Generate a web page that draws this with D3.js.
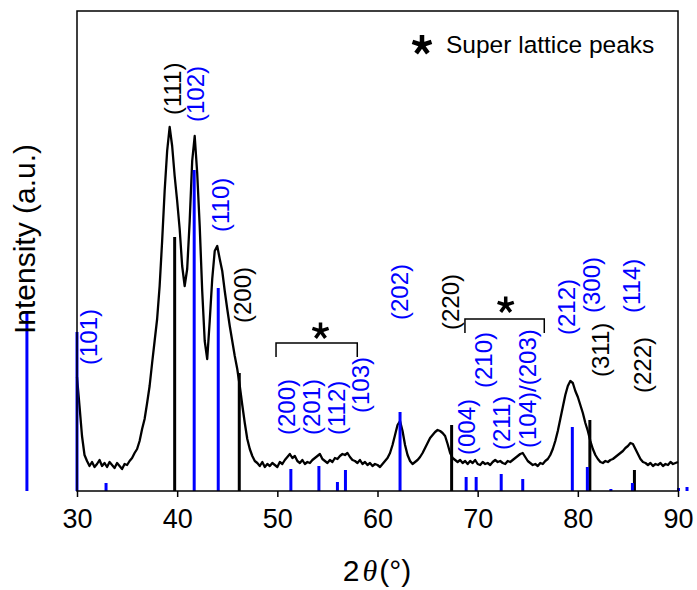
<!DOCTYPE html>
<html>
<head>
<meta charset="utf-8">
<script src="https://cdn.jsdelivr.net/npm/d3@7"></script>
<style>
  body { margin: 0; background: #fff; }
  text { font-family: "Liberation Sans", Arial, sans-serif; }
</style>
</head>
<body>
<svg width="697" height="590"></svg>
<script>
// measured pattern, [2theta, intensity (a.u.)]
const pattern = [
  [30,114],[30.25,85],[30.5,55],[30.75,36],[31,30],[31.25,25],[31.5,29],[31.75,24],
  [32,27],[32.25,31],[32.5,25],[32.75,28],[33,24],[33.25,29],[33.5,26],[33.75,23],
  [34,28],[34.25,25],[34.5,22],[34.75,27],[35,26],[35.25,30],[35.5,33],[35.75,38],
  [36,42],[36.25,50],[36.5,62],[36.75,72],[37,88],[37.25,105],[37.5,128],[37.75,150],
  [38,172],[38.25,205],[38.5,250],[38.75,300],[39,340],[39.25,364],[39.5,345],[39.75,315],
  [40,290],[40.25,262],[40.5,225],[40.75,205],[41,222],[41.25,270],[41.5,330],[41.75,355],
  [42,318],[42.25,265],[42.5,200],[42.75,150],[43,132],[43.25,170],[43.5,212],[43.75,240],
  [44,245],[44.25,232],[44.5,220],[44.75,200],[45,182],[45.25,165],[45.5,150],[45.75,135],
  [46,122],[46.25,105],[46.5,86],[46.75,68],[47,52],[47.25,42],[47.5,35],[47.75,30],
  [48,28],[48.25,25],[48.5,29],[48.75,24],[49,27],[49.25,25],[49.5,28],[49.75,26],
  [50,24],[50.25,29],[50.5,27],[50.75,31],[51,34],[51.25,37],[51.5,33],[51.75,35],
  [52,30],[52.25,28],[52.5,31],[52.75,27],[53,29],[53.25,28],[53.5,31],[53.75,33],
  [54,35],[54.25,37],[54.5,32],[54.75,30],[55,28],[55.25,31],[55.5,29],[55.75,33],
  [56,32],[56.25,35],[56.5,37],[56.75,36],[57,38],[57.25,34],[57.5,31],[57.75,30],
  [58,28],[58.25,31],[58.5,27],[58.75,29],[59,26],[59.25,28],[59.5,25],[59.75,27],
  [60,26],[60.25,24],[60.5,27],[60.75,30],[61,33],[61.25,38],[61.5,46],[61.75,56],
  [62,66],[62.25,70],[62.5,60],[62.75,46],[63,36],[63.25,30],[63.5,27],[63.75,29],
  [64,31],[64.25,34],[64.5,38],[64.75,43],[65,48],[65.25,53],[65.5,56],[65.75,59],
  [66,61],[66.25,60],[66.5,58],[66.75,55],[67,47],[67.25,38],[67.5,33],[67.75,31],
  [68,29],[68.25,31],[68.5,28],[68.75,30],[69,27],[69.25,30],[69.5,28],[69.75,31],
  [70,27],[70.25,26],[70.5,29],[70.75,27],[71,28],[71.25,26],[71.5,29],[71.75,31],
  [72,29],[72.25,30],[72.5,28],[72.75,27],[73,30],[73.25,29],[73.5,31],[73.75,33],
  [74,35],[74.25,37],[74.5,38],[74.75,34],[75,30],[75.25,28],[75.5,26],[75.75,27],
  [76,25],[76.25,28],[76.5,27],[76.75,30],[77,32],[77.25,36],[77.5,42],[77.75,50],
  [78,60],[78.25,72],[78.5,84],[78.75,96],[79,105],[79.25,110],[79.5,108],[79.75,100],
  [80,94],[80.25,86],[80.5,78],[80.75,68],[81,60],[81.25,50],[81.5,42],[81.75,36],
  [82,32],[82.25,29],[82.5,28],[82.75,30],[83,29],[83.25,31],[83.5,32],[83.75,34],
  [84,36],[84.25,38],[84.5,40],[84.75,43],[85,45],[85.25,48],[85.5,47],[85.75,42],
  [86,37],[86.25,32],[86.5,29],[86.75,28],[87,26],[87.25,28],[87.5,25],[87.75,27],
  [88,26],[88.25,28],[88.5,25],[88.75,27],[89,26],[89.25,29],[89.5,27],[89.75,28],
  [90,29]
]

// reference lines, hexagonal phase (blue)
const hexAngles = [25.0, 30.0, 32.9, 41.7, 44.1, 51.35, 54.15, 56.0, 56.8, 62.25,
  68.85, 69.85, 72.35, 74.5, 79.45, 80.95, 83.3, 85.45, 90.05, 90.9]
const hexHeights = [180, 159, 8, 321, 203, 22, 25, 9, 21, 79,
  14, 14, 17, 12, 64, 24, 2, 8, 3, 4]

// reference lines, cubic phase (black)
const cubAngles = [39.75, 46.2, 67.4, 81.2, 85.65]
const cubHeights = [254, 118, 66, 71, 21]

// peak labels: text, 2theta, intensity at the start of the text, phase
const labelText = ['(101)', '(111)', '(102)', '(110)', '(200)', '(200)', '(201)', '(112)', '(103)',
  '(202)', '(220)', '(004)', '(210)', '(211)', '(104)/(203)', '(212)', '(300)', '(311)', '(114)', '(222)']
const labelAngle = [31.1, 39.53, 41.88, 44.28, 46.57, 50.96, 53.46, 55.86, 58.35,
  62.24, 67.24, 68.84, 70.63, 72.33, 75.02, 78.82, 81.41, 82.31, 85.31, 86.5]
const labelLevel = [126, 376, 369, 259, 168, 56, 56, 56, 78,
  171, 161, 36, 103, 41, 43, 156, 178, 114, 178, 98]
const labelPhase = ['hex', 'cub', 'hex', 'hex', 'cub', 'hex', 'hex', 'hex', 'hex',
  'hex', 'cub', 'hex', 'hex', 'hex', 'hex', 'hex', 'hex', 'cub', 'hex', 'cub']

// super lattice brackets: from, to, bar level, end level, star angle, star level
const brackets = [[49.87, 57.98, 148, 134, 54.31, 160], [68.73, 76.65, 172, 158, 72.8, 186]]

const xTicks = [30, 40, 50, 60, 70, 80, 90]

const svg = d3.select('svg')
const m = {left: 77, right: 678, top: 11, bottom: 491}
const blue = '#0000ff'

const x = d3.scaleLinear().domain([30, 90]).range([m.left, m.right])
const y = d3.scaleLinear().domain([0, 480]).range([m.bottom, m.top])

// curve
svg.append('path')
  .datum(pattern)
  .attr('fill', 'none')
  .attr('stroke', '#000')
  .attr('stroke-width', 2.3)
  .attr('stroke-linejoin', 'round')
  .attr('d', d3.line().x(d => x(d[0])).y(d => y(d[1])))

// reference sticks
const sticks = (angles, heights, color) => {
  svg.append('g').selectAll('line')
    .data(angles)
    .join('line')
    .attr('x1', d => x(d)).attr('x2', d => x(d))
    .attr('y1', y(0)).attr('y2', (d, i) => y(heights[i]))
    .attr('stroke', color)
    .attr('stroke-width', 3)
}
sticks(cubAngles, cubHeights, '#000')
sticks(hexAngles, hexHeights, blue)

// frame
svg.append('rect')
  .attr('x', m.left).attr('y', m.top)
  .attr('width', m.right - m.left).attr('height', m.bottom - m.top)
  .attr('fill', 'none').attr('stroke', '#000').attr('stroke-width', 1.5)

const xAxis = svg.append('g')
  .attr('transform', `translate(0,${m.bottom})`)
  .call(d3.axisBottom(x).tickValues(xTicks).tickFormat(d3.format('d')).tickSize(6).tickPadding(12))
xAxis.select('.domain').remove()
xAxis.selectAll('line').attr('stroke-width', 1.5)
xAxis.selectAll('text')
  .style('font-family', '"Liberation Sans", Arial, sans-serif')
  .attr('font-size', 27).attr('fill', '#000')

// labels
svg.append('g').selectAll('text')
  .data(labelText)
  .join('text')
  .attr('transform', (d, i) => `translate(${x(labelAngle[i])},${y(labelLevel[i])}) rotate(-90)`)
  .attr('dominant-baseline', 'central')
  .attr('font-size', 24)
  .attr('fill', (d, i) => labelPhase[i] === 'hex' ? blue : '#000')
  .text(d => d)

// five-arm asterisk
const star = (cx, cy, r, w) => {
  const p = d3.path()
  for (let k = 0; k < 5; k++) {
    const a = -Math.PI / 2 + k * 2 * Math.PI / 5
    p.moveTo(cx, cy)
    p.lineTo(cx + r * Math.cos(a), cy + r * Math.sin(a))
  }
  svg.append('path').attr('d', p.toString())
    .attr('stroke', '#000').attr('stroke-width', w).attr('fill', 'none')
}

brackets.forEach(b => {
  svg.append('path')
    .attr('d', `M${x(b[0])},${y(b[3])}V${y(b[2])}H${x(b[1])}V${y(b[3])}`)
    .attr('fill', 'none').attr('stroke', '#000').attr('stroke-width', 1.5)
  star(x(b[4]), y(b[5]), 8.5, 3.5)
})

// legend
star(422, 45, 10, 4.5)
svg.append('text')
  .attr('x', 446).attr('y', 53)
  .attr('font-size', 24.5)
  .text('Super lattice peaks')

// axis titles
svg.append('text')
  .attr('transform', 'translate(35,239) rotate(-90)')
  .attr('text-anchor', 'middle')
  .attr('font-size', 30)
  .text('Intensity (a.u.)')

const xt = svg.append('text')
  .attr('x', 377).attr('y', 581)
  .attr('text-anchor', 'middle')
  .attr('font-size', 30)
xt.append('tspan').text('2')
xt.append('tspan').attr('dx', 3).style('font-family', '"Liberation Serif", serif').style('font-style', 'italic').text('θ')
xt.append('tspan').attr('dx', 2).text('(°)')
</script>
</body>
</html>
